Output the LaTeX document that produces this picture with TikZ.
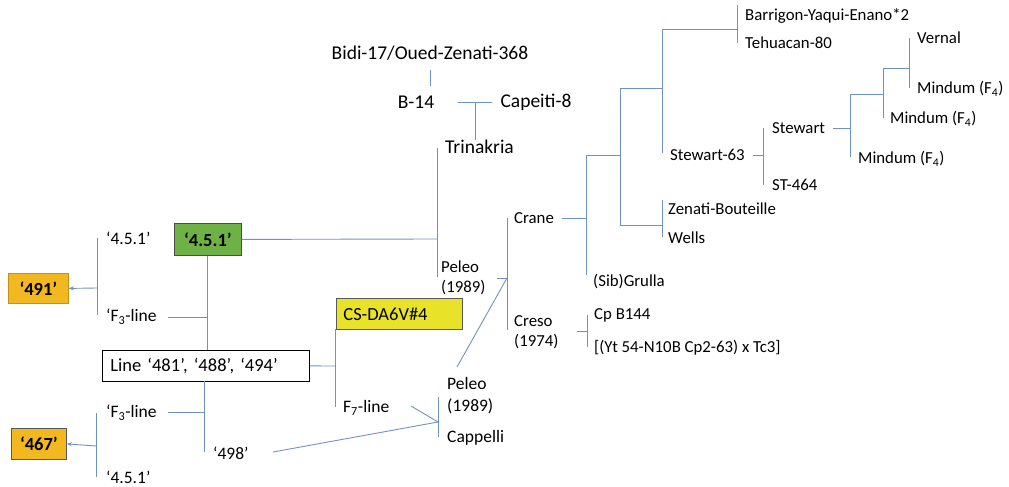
\documentclass[tikz,border=0pt]{standalone}
\usepackage{fontspec}
\setmainfont{Carlito}
\usetikzlibrary{arrows.meta}
\definecolor{linec}{RGB}{112,146,192}
\definecolor{orangeb}{RGB}{242,184,32}
\definecolor{greenb}{RGB}{110,178,70}
\definecolor{yellowb}{RGB}{232,226,40}
\newcommand{\fbig}{\fontsize{19.5}{22}\selectfont}
\newcommand{\fmid}{\fontsize{17.5}{22}\selectfont}
\newcommand{\fsml}{\fontsize{16.8}{20}\selectfont}
\newcommand{\fboxtxt}{\fontsize{18.5}{22}\selectfont}
\begin{document}
\begin{tikzpicture}[x=1pt,y=-1pt,
  conn/.style={draw=linec,line width=0.9pt},
  arr/.style={conn,-{Stealth[length=5pt,width=4pt]}},
  lbl/.style={anchor=west,inner sep=0pt,font=\fmid,align=left},
  lbig/.style={inner sep=0pt,font=\fbig},
  lsm/.style={anchor=west,inner sep=0pt,font=\fsml,align=left},
  boxn/.style={draw=#1,line width=0.8pt,inner sep=0pt,font=\fboxtxt\bfseries}]
\useasboundingbox (0,0) rectangle (1009,487);
% ---- top left tree
\node[lbig] (bidi) at (430,53) {Bidi-17/Oued-Zenati-368};
\node[lbig] (b14) at (416,102) {B-14};
\node[lbig] (cap8) at (536,102) {Capeiti-8};
\node[lbig,anchor=west] (trin) at (445,147) {Trinakria};
\node[lsm] (pel1) at (441,278) {Peleo\\(1989)};
\node[lsm] (crane) at (514,218) {Crane};
\node[lsm] (creso) at (514,332) {Creso\\(1974)};
\node[lsm] (grulla) at (593,282) {(Sib)Grulla};
\node[lsm] (zen) at (668,209) {Zenati-Bouteille};
\node[lsm] (wells) at (668,238) {Wells};
\node[lsm] (st63) at (670,155) {Stewart-63};
\node[lsm] (stew) at (772,128) {Stewart};
\node[lsm] (st464) at (772,185) {ST-464};
\node[lsm] (barr) at (745,16) {Barrigon-Yaqui-Enano*2};
\node[lsm] (teh) at (745,43) {Tehuacan-80};
\node[lsm] (vernal) at (917,38) {Vernal};
\node[lsm] (mind1) at (917,89) {Mindum (F\textsubscript{4})};
\node[lsm] (mind2) at (890,119) {Mindum (F\textsubscript{4})};
\node[lsm] (mind3) at (858,159) {Mindum (F\textsubscript{4})};
\node[lsm] (cpb) at (594,315) {Cp B144};
\node[lsm] (yt) at (594,348) {[(Yt 54-N10B Cp2-63) x Tc3]};
\node[lbl] (pel2) at (447,396) {Peleo\\(1989)};
\node[lbl] (capp) at (447,438) {Cappelli};
\node[lbl] (f7) at (343,408) {F\textsubscript{7}-line};
% ---- boxes
\node[boxn=gray!70!black,fill=yellowb,minimum width=126,minimum height=31,anchor=north west,font=\fboxtxt,text width=112,inner xsep=7,align=left] (cs) at (336,298) {CS-DA6V\#4};
\node[boxn=black,fill=white,minimum width=207,minimum height=31,anchor=north west,font=\fboxtxt,text width=191,inner xsep=8,align=left] (linebox) at (102,350) {Line ‘481’, ‘488’, ‘494’};
\node[boxn=gray!60!black,fill=greenb,minimum width=67,minimum height=32,anchor=north west] (g451) at (174,223) {‘4.5.1’};
\node[boxn=orangeb!80!black,fill=orangeb,minimum width=60,minimum height=30,anchor=north west] (b491) at (8,273) {‘491’};
\node[boxn=gray!70!black,fill=orangeb,minimum width=55,minimum height=31,anchor=north west] (b467) at (11,428) {‘467’};
% ---- left labels
\node[lbl] (t451a) at (106,238) {‘4.5.1’};
\node[lbl] (f3a) at (106,317) {‘F\textsubscript{3}-line};
\node[lbl] (f3b) at (106,413) {‘F\textsubscript{3}-line};
\node[lbl] (t498) at (213,453) {‘498’};
\node[lbl] (t451b) at (106,477) {‘4.5.1’};
% ---- junction coordinates
\coordinate (jb1) at (430,70); \coordinate (jb2) at (430,86);
\coordinate (jc1) at (458,102); \coordinate (jc2) at (492,102);
\coordinate (jc3) at (475,102); \coordinate (jc4) at (475,140);
\coordinate (jt1) at (437,148); \coordinate (jt2) at (437,277);
\coordinate (jt3) at (437,239);
\coordinate (jp1) at (497,278); \coordinate (jp2) at (507,278);
\coordinate (jp3) at (507,218); \coordinate (jp4) at (507,330);
\coordinate (jpl) at (457,367);
\coordinate (jr1) at (562,218); \coordinate (jr2) at (586,218);
\coordinate (jr3) at (586,155); \coordinate (jr4) at (586,275);
\coordinate (jr5) at (620,155); \coordinate (jr6) at (620,88);
\coordinate (jr7) at (620,225); \coordinate (jr8) at (662,225);
\coordinate (jr9) at (662,200); \coordinate (jr10) at (662,237);
\coordinate (jr11) at (662,88); \coordinate (jr12) at (662,29);
\coordinate (jr13) at (662,153); \coordinate (jr14) at (737,29);
\coordinate (jr15) at (737,5); \coordinate (jr16) at (737,43);
\coordinate (js1) at (753,155); \coordinate (js2) at (763,155);
\coordinate (js3) at (763,128); \coordinate (js4) at (763,185);
\coordinate (jm1) at (833,128); \coordinate (jm2) at (850,128);
\coordinate (jm3) at (850,94); \coordinate (jm4) at (850,157);
\coordinate (jm5) at (883,94); \coordinate (jm6) at (883,68);
\coordinate (jm7) at (883,118); \coordinate (jm8) at (909,68);
\coordinate (jm9) at (909,38); \coordinate (jm10) at (909,88);
\coordinate (jk1) at (577,331); \coordinate (jk2) at (587,331);
\coordinate (jk3) at (587,315); \coordinate (jk4) at (587,347);
\coordinate (jl1) at (97,238); \coordinate (jl2) at (97,315);
\coordinate (jl3) at (97,288);
\coordinate (jf1) at (168,317); \coordinate (jf2) at (207,317);
\coordinate (jg2) at (207,350);
\coordinate (jx1) at (335,366); \coordinate (jx2) at (335,329);
\coordinate (jx3) at (335,407);
\coordinate (jy1) at (411,406); \coordinate (jy2) at (438,422);
\coordinate (jy3) at (438,397); \coordinate (jy4) at (438,437);
\coordinate (j498) at (273,452);
\coordinate (jd1) at (204,381); \coordinate (jd2) at (204,452);
\coordinate (jd3) at (168,412); \coordinate (jd4) at (204,412);
\coordinate (jq1) at (96,413); \coordinate (jq2) at (96,477);
\coordinate (jq3) at (96,446);
% ---- connectors
\draw[conn] (jb1) -- (jb2);
\draw[conn] (jc1) -- (jc2);
\draw[conn] (jc3) -- (jc4);
\draw[conn] (jt1) -- (jt2);
\draw[conn] (g451.east) -- (jt3);
\draw[conn] (jp1) -- (jp2);
\draw[conn] (jpl) -- (jp2);
\draw[conn] (jp3) -- (jp4);
\draw[conn] (jr1) -- (jr2);
\draw[conn] (jr3) -- (jr4);
\draw[conn] (jr3) -- (jr5);
\draw[conn] (jr6) -- (jr7);
\draw[conn] (jr7) -- (jr8);
\draw[conn] (jr9) -- (jr10);
\draw[conn] (jr6) -- (jr11);
\draw[conn] (jr12) -- (jr13);
\draw[conn] (jr12) -- (jr14);
\draw[conn] (jr15) -- (jr16);
\draw[conn] (js1) -- (js2);
\draw[conn] (js3) -- (js4);
\draw[conn] (jm1) -- (jm2);
\draw[conn] (jm3) -- (jm4);
\draw[conn] (jm3) -- (jm5);
\draw[conn] (jm6) -- (jm7);
\draw[conn] (jm6) -- (jm8);
\draw[conn] (jm9) -- (jm10);
\draw[conn] (jk1) -- (jk2);
\draw[conn] (jk3) -- (jk4);
\draw[conn] (jl1) -- (jl2);
\draw[arr] (jl3) -- (b491.east);
\draw[conn] (jf1) -- (jf2);
\draw[conn] (g451.south -| jf2) -- (jg2);
\draw[conn] (linebox.east) -- (jx1);
\draw[conn] (jx2) -- (jx3);
\draw[conn] (jy1) -- (jy2);
\draw[conn] (jy3) -- (jy4);
\draw[conn] (j498) -- (jy2);
\draw[conn] (jd1) -- (jd2);
\draw[conn] (jd3) -- (jd4);
\draw[conn] (jq1) -- (jq2);
\draw[arr] (jq3) -- (b467.east);
\end{tikzpicture}
\end{document}
